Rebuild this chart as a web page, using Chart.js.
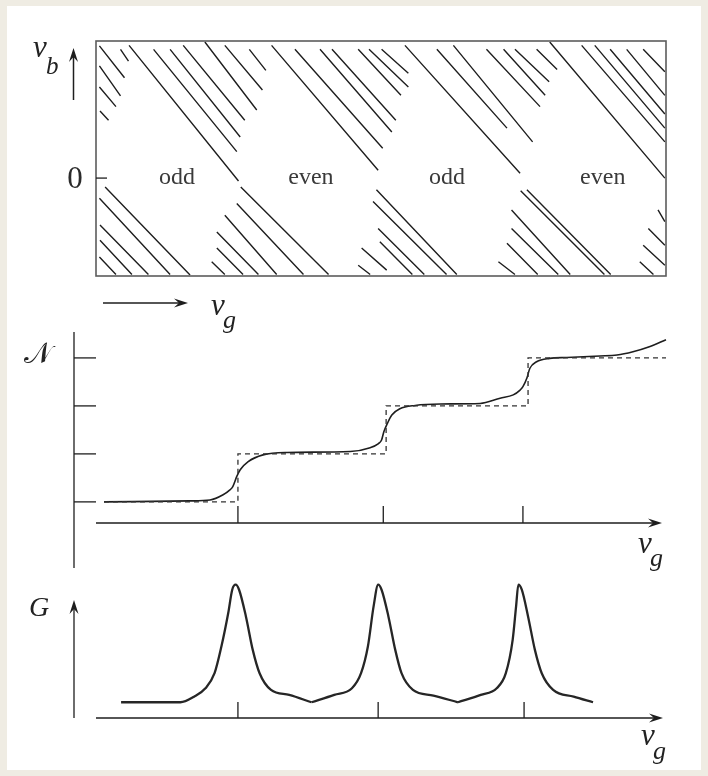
<!DOCTYPE html>
<html lang="en">
<head>
<meta charset="UTF-8" />
<title>Charge stability diagram</title>
<style>
  html, body { margin: 0; padding: 0; background: #efece3; }
  #page { position: relative; width: 708px; height: 776px; }
  #sheet { position: absolute; left: 7px; top: 6px; width: 694px; height: 764px; background: #fff; }
  canvas { position: absolute; left: 0; top: 0; }
</style>
</head>
<body>
<div id="page">
  <div id="sheet"></div>
  <canvas id="vbChart" width="708" height="776"></canvas>
  <canvas id="nChart" width="708" height="776"></canvas>
  <canvas id="gChart" width="708" height="776"></canvas>
</div>

<script src="https://cdn.jsdelivr.net/npm/chart.js"></script>
<script>
const serif = '"Liberation Serif", "DejaVu Serif", serif';
const ink = "#1e1e1e";

// ---- top panel: v_g (0..10) against v_b (-2..2.8)
const vgMin = 0, vgMax = 10;
const vbMin = -2.0, vbMax = 2.8;
const diamondLabels = ["odd", "even", "odd", "even"];
const diamondCenters = [1.42, 3.77, 6.16, 8.89];

// each line: [vg1, vb1, vg2, vb2]
const linesAbove = [
  [0.06, 2.70, 0.50, 2.05], [0.43, 2.63, 0.57, 2.39], [0.06, 2.29, 0.43, 1.68],
  [0.06, 1.86, 0.35, 1.46], [0.07, 1.37, 0.22, 1.18],
  [0.58, 2.71, 2.50, -0.06], [1.01, 2.63, 2.47, 0.54], [1.30, 2.63, 2.53, 0.84],
  [1.53, 2.71, 2.61, 1.18], [1.91, 2.78, 2.82, 1.39], [2.26, 2.71, 2.92, 1.80],
  [2.69, 2.63, 2.98, 2.20],
  [3.08, 2.71, 4.95, 0.16], [3.49, 2.63, 5.03, 0.61], [3.93, 2.63, 5.19, 0.94],
  [4.14, 2.63, 5.26, 1.18], [4.60, 2.63, 5.35, 1.69], [4.79, 2.63, 5.48, 1.86],
  [5.01, 2.63, 5.48, 2.14],
  [5.42, 2.71, 7.44, 0.10], [5.98, 2.63, 7.21, 1.02], [6.27, 2.71, 7.66, 0.74],
  [6.85, 2.63, 7.79, 1.46], [7.15, 2.63, 7.88, 1.69], [7.35, 2.63, 7.95, 1.97],
  [7.73, 2.63, 8.09, 2.22],
  [7.96, 2.78, 9.98, 0.00], [8.52, 2.71, 9.98, 0.74], [8.75, 2.71, 9.98, 1.02],
  [9.02, 2.63, 9.98, 1.31], [9.31, 2.63, 9.98, 1.69], [9.60, 2.63, 9.98, 2.17]
];
const linesBelow = [
  [0.16, -0.18, 1.65, -1.98], [0.06, -0.41, 1.30, -1.97], [0.07, -0.96, 0.92, -1.97],
  [0.07, -1.27, 0.63, -1.97], [0.06, -1.61, 0.35, -1.97],
  [2.54, -0.18, 4.08, -1.97], [2.47, -0.52, 3.64, -1.97], [2.26, -0.76, 3.17, -1.97],
  [2.12, -1.10, 2.85, -1.97], [2.12, -1.43, 2.58, -1.97], [2.03, -1.71, 2.26, -1.97],
  [4.92, -0.24, 6.33, -1.97], [4.86, -0.48, 6.15, -1.97], [4.95, -1.03, 5.76, -1.97],
  [4.98, -1.30, 5.55, -1.97], [4.66, -1.43, 5.10, -1.88], [4.60, -1.78, 4.81, -1.97],
  [7.45, -0.26, 8.92, -1.97], [7.56, -0.24, 9.03, -1.97], [7.29, -0.65, 8.32, -1.97],
  [7.29, -1.03, 8.11, -1.97], [7.21, -1.33, 7.75, -1.97], [7.06, -1.71, 7.35, -1.97],
  [9.86, -0.65, 9.98, -0.89], [9.69, -1.03, 9.98, -1.37], [9.60, -1.37, 9.98, -1.78],
  [9.54, -1.71, 9.78, -1.97]
];

// ---- middle panel: electron number N against v_g
const nX = [0.14, 1.65, 2.00, 2.23, 2.35, 2.40, 2.47, 2.53, 2.67, 2.93, 3.35, 4.46,
  4.81, 4.95, 5.01, 5.05, 5.11, 5.19, 5.33, 5.60, 6.04, 6.74, 7.09, 7.32, 7.44, 7.49,
  7.56, 7.61, 7.73, 7.96, 8.26, 8.84, 9.14, 9.42, 9.72, 10.0];
const nY = [0, 0.02, 0.04, 0.15, 0.25, 0.32, 0.53, 0.67, 0.84, 0.98, 1.03, 1.05,
  1.13, 1.21, 1.29, 1.46, 1.63, 1.81, 1.94, 2.01, 2.04, 2.05, 2.16, 2.23, 2.33, 2.40,
  2.58, 2.78, 2.92, 2.99, 3.01, 3.04, 3.06, 3.13, 3.24, 3.38];
const nLevels = [0, 1, 2, 3];
const stepEdges = [2.49, 5.09, 7.58];
const stairStart = 0.14, stairEnd = 10.0;
const nTickX = [2.49, 5.04, 7.49];
const nMin = -0.44, nMax = 3.54;

// ---- bottom panel: conductance G against v_g
const gX = [0.44, 1.48, 1.72, 1.92, 2.08, 2.20, 2.32, 2.39, 2.45, 2.51, 2.63, 2.75,
  2.87, 3.07, 3.39, 3.78, 4.18, 4.49, 4.65, 4.77, 4.87, 4.95, 5.01, 5.13, 5.25, 5.36,
  5.56, 5.92, 6.35, 6.75, 7.03, 7.19, 7.31, 7.37, 7.41, 7.47, 7.58, 7.70, 7.82, 8.02,
  8.38, 8.72];
const gY = [0.118, 0.118, 0.16, 0.223, 0.336, 0.536, 0.787, 0.962, 1.0, 0.962, 0.762,
  0.511, 0.336, 0.211, 0.173, 0.118, 0.173, 0.223, 0.336, 0.536, 0.837, 1.0, 0.962,
  0.762, 0.511, 0.336, 0.211, 0.168, 0.118, 0.173, 0.223, 0.336, 0.586, 0.837, 1.0,
  0.962, 0.762, 0.511, 0.336, 0.211, 0.16, 0.118];
const gTickX = [2.49, 4.95, 7.51];
const gMin = 0, gMax = 1.05;

function segmentPoints(list) {
  return list.flatMap(([x1, y1, x2, y2]) => [
    { x: x1, y: y1 }, { x: x2, y: y2 }, { x: x2, y: null }
  ]);
}

function stairPoints() {
  let pts = [{ x: stairStart, y: nLevels[0] }];
  stepEdges.forEach((e, i) => {
    pts.push({ x: e, y: nLevels[i] });
    pts.push({ x: e, y: nLevels[i + 1] });
  });
  pts.push({ x: stairEnd, y: nLevels[nLevels.length - 1] });
  return pts;
}

// split the G curve at its valleys so each valley keeps its sharp corner
function gPieces() {
  let cuts = [0];
  for (let i = 1; i < gY.length - 1; i++) {
    if (gY[i] < gY[i - 1] && gY[i] < gY[i + 1]) cuts.push(i);
  }
  cuts.push(gY.length - 1);
  let pieces = [];
  for (let k = 0; k < cuts.length - 1; k++) {
    let pts = [];
    for (let i = cuts[k]; i <= cuts[k + 1]; i++) pts.push({ x: gX[i], y: gY[i] });
    pieces.push(pts);
  }
  return pieces;
}

function seg(ctx, x1, y1, x2, y2) {
  ctx.beginPath();
  ctx.moveTo(x1, y1);
  ctx.lineTo(x2, y2);
  ctx.stroke();
}

function arrowHead(ctx, x, y, angle) {
  ctx.save();
  ctx.translate(x, y);
  ctx.rotate(angle);
  ctx.beginPath();
  ctx.moveTo(0, 0);
  ctx.lineTo(-14, -4.5);
  ctx.lineTo(-9, 0);
  ctx.lineTo(-14, 4.5);
  ctx.closePath();
  ctx.fill();
  ctx.restore();
}

function italic(ctx, text, x, y, size) {
  ctx.font = "italic " + size + "px " + serif;
  ctx.textAlign = "left";
  ctx.textBaseline = "alphabetic";
  ctx.fillText(text, x, y);
}

function baseOptions(pad, xmin, xmax, ymin, ymax) {
  return {
    responsive: false,
    animation: false,
    events: [],
    layout: { padding: pad },
    plugins: { legend: { display: false }, tooltip: { enabled: false } },
    scales: {
      x: { type: "linear", display: false, min: xmin, max: xmax },
      y: { type: "linear", display: false, min: ymin, max: ymax }
    }
  };
}

// ---------- top chart
new Chart(document.querySelector("#vbChart"), {
  type: "scatter",
  data: {
    datasets: [{
      data: segmentPoints(linesAbove.concat(linesBelow)),
      showLine: true,
      pointRadius: 0,
      borderColor: ink,
      borderWidth: 1.4,
      spanGaps: false
    }]
  },
  options: baseOptions({ left: 96, right: 42, top: 41, bottom: 500 }, vgMin, vgMax, vbMin, vbMax),
  plugins: [{
    id: "vbDecor",
    afterDraw(chart) {
      const { ctx, chartArea: a, scales } = chart;
      ctx.save();
      ctx.strokeStyle = "#5c5c5c";
      ctx.lineWidth = 1.6;
      ctx.strokeRect(a.left, a.top, a.right - a.left, a.bottom - a.top);
      let y0 = scales.y.getPixelForValue(0);
      ctx.strokeStyle = ink;
      ctx.lineWidth = 1.3;
      seg(ctx, a.left, y0, a.left + 11, y0);

      ctx.fillStyle = "#2a2a2a";
      ctx.font = "31px " + serif;
      ctx.textAlign = "center";
      ctx.textBaseline = "middle";
      ctx.fillText("0", 75, y0 + 2);
      ctx.fillStyle = "#3a3a3a";
      ctx.font = "24px " + serif;
      diamondLabels.forEach((t, i) => {
        ctx.fillText(t, scales.x.getPixelForValue(diamondCenters[i]), y0);
      });

      // v_b arrow and label
      ctx.fillStyle = ink;
      ctx.strokeStyle = ink;
      ctx.lineWidth = 1.5;
      seg(ctx, 73.5, 100, 73.5, 54);
      arrowHead(ctx, 73.5, 48, -Math.PI / 2);
      ctx.fillStyle = "#222";
      italic(ctx, "v", 33, 57, 31);
      italic(ctx, "b", 46, 74, 25);

      // v_g arrow under the box
      ctx.fillStyle = ink;
      seg(ctx, 103, 303, 182, 303);
      arrowHead(ctx, 188, 303, 0);
      ctx.fillStyle = "#222";
      italic(ctx, "v", 211, 315, 31);
      italic(ctx, "g", 223, 328, 26);
      ctx.restore();
    }
  }]
});

// ---------- middle chart
new Chart(document.querySelector("#nChart"), {
  type: "scatter",
  data: {
    datasets: [
      {
        data: stairPoints(),
        showLine: true,
        pointRadius: 0,
        borderColor: "#333",
        borderWidth: 1.3,
        borderDash: [5, 4],
        tension: 0
      },
      {
        data: nX.map((x, i) => ({ x: x, y: nY[i] })),
        showLine: true,
        pointRadius: 0,
        borderColor: ink,
        borderWidth: 1.6,
        cubicInterpolationMode: "monotone",
        clip: false
      }
    ]
  },
  options: baseOptions({ left: 96, right: 42, top: 332, bottom: 253 }, vgMin, vgMax, nMin, nMax),
  plugins: [{
    id: "nDecor",
    afterDraw(chart) {
      const { ctx, chartArea: a, scales } = chart;
      ctx.save();
      ctx.strokeStyle = ink;
      ctx.fillStyle = ink;
      ctx.lineWidth = 1.3;
      seg(ctx, 74, 332, 74, 568);
      nLevels.forEach((v) => {
        let y = scales.y.getPixelForValue(v);
        seg(ctx, 74, y, a.left, y);
      });
      seg(ctx, a.left, a.bottom, 656, a.bottom);
      arrowHead(ctx, 662, a.bottom, 0);
      nTickX.forEach((v) => {
        let x = scales.x.getPixelForValue(v);
        seg(ctx, x, a.bottom - 17, x, a.bottom);
      });
      ctx.fillStyle = "#222";
      ctx.font = "29px " + serif;
      ctx.textAlign = "center";
      ctx.textBaseline = "middle";
      ctx.fillText("\u{1D4A9}", 38, 355);
      italic(ctx, "v", 638, 553, 31);
      italic(ctx, "g", 650, 566, 26);
      ctx.restore();
    }
  }]
});

// ---------- bottom chart
new Chart(document.querySelector("#gChart"), {
  type: "scatter",
  data: {
    datasets: gPieces().map((pts) => ({
      data: pts,
      showLine: true,
      pointRadius: 0,
      borderColor: "#262626",
      borderWidth: 2.3,
      cubicInterpolationMode: "monotone",
      clip: false
    }))
  },
  options: baseOptions({ left: 96, right: 42, top: 578, bottom: 58 }, vgMin, vgMax, gMin, gMax),
  plugins: [{
    id: "gDecor",
    afterDraw(chart) {
      const { ctx, chartArea: a, scales } = chart;
      ctx.save();
      ctx.strokeStyle = ink;
      ctx.fillStyle = ink;
      ctx.lineWidth = 1.3;
      seg(ctx, 74, a.bottom, 74, 606);
      arrowHead(ctx, 74, 600, -Math.PI / 2);
      seg(ctx, a.left, a.bottom, 657, a.bottom);
      arrowHead(ctx, 663, a.bottom, 0);
      gTickX.forEach((v) => {
        let x = scales.x.getPixelForValue(v);
        seg(ctx, x, a.bottom - 16, x, a.bottom);
      });
      ctx.fillStyle = "#222";
      italic(ctx, "G", 29, 616, 28);
      italic(ctx, "v", 641, 745, 31);
      italic(ctx, "g", 653, 759, 26);
      ctx.restore();
    }
  }]
});
</script>
</body>
</html>
